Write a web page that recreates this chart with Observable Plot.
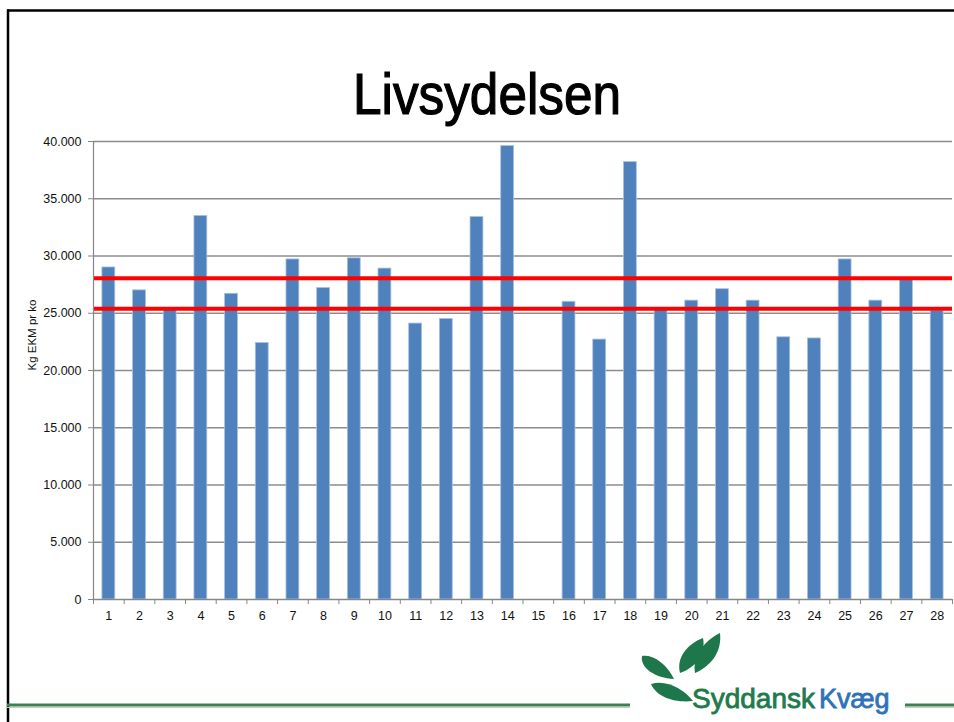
<!DOCTYPE html>
<html>
<head>
<meta charset="utf-8">
<script src="https://cdn.jsdelivr.net/npm/d3@7"></script>
<script src="https://cdn.jsdelivr.net/npm/@observablehq/plot@0.6"></script>
<style>
  html, body { margin: 0; padding: 0; background: #fff; }
  #page { position: relative; width: 954px; height: 722px; overflow: hidden; background: #fff; }
  #title { position: absolute; left: 487px; top: 66px; transform: translateX(-50%) scaleX(0.9);
    font-family: "Liberation Sans", Arial, sans-serif;
    font-size: 57px; line-height: 57px; color: #000; white-space: nowrap;
    -webkit-text-stroke: 1.2px #000; }
  #chart { position: absolute; left: 0; top: 130px; }
  #deco { position: absolute; left: 0; top: 0; }
</style>
</head>
<body>
<div id="page">
  <svg id="deco" width="954" height="722">
    <line x1="7" y1="10.5" x2="954" y2="10.5" stroke="#000" stroke-width="2.5"/>
    <line x1="8" y1="9.5" x2="8" y2="722" stroke="#000" stroke-width="2.5"/>
    <line x1="7" y1="705" x2="630" y2="705" stroke="#40804f" stroke-width="3"/>
    <line x1="7" y1="707.5" x2="630" y2="707.5" stroke="#b8d3be" stroke-width="1"/>
    <line x1="905" y1="705" x2="954" y2="705" stroke="#40804f" stroke-width="3"/>
    <line x1="905" y1="707.5" x2="954" y2="707.5" stroke="#b8d3be" stroke-width="1"/>
    <g fill="#1e774a">
      <path d="M674,679 C666,662 651,654 642,656 C640,668 655,678 674,679 Z"/>
      <path d="M651,684 C666,679 684,689 693,701 C676,703 657,698 651,684 Z"/>
      <path d="M680,673 C676,658 687,644 703,638 C706,653 697,667 680,673 Z"/>
      <path d="M695,673 C692,656 704,641 720,633 C722,650 713,665 695,673 Z"/>
    </g>
    <text x="692" y="708" font-family="Liberation Sans, Arial, sans-serif" font-size="28" fill="#217a4c" stroke="#217a4c" stroke-width="0.8">Syddansk</text>
    <text x="819" y="708" font-family="Liberation Sans, Arial, sans-serif" font-size="27" fill="#2e72b8" stroke="#2e72b8" stroke-width="0.8">Kvæg</text>
  </svg>
  <div id="title">Livsydelsen</div>
  <div id="chart"></div>
</div>
<script>
const categories = [1, 2, 3, 4, 5, 6, 7, 8, 9, 10, 11, 12, 13, 14, 15, 16, 17, 18, 19, 20, 21, 22, 23, 24, 25, 26, 27, 28];
const values = [29000, 27000, 25300, 33500, 26700, 22400, 29700, 27200, 29800, 28900,
                24100, 24500, 33400, 39600, null, 26000, 22700, 38200, 25300, 26100,
                27100, 26100, 22900, 22800, 29700, 26100, 27900, 25200];
const referenceLines = [28050, 25400];
const yTicks = [0, 5000, 10000, 15000, 20000, 25000, 30000, 35000, 40000];
const yLabel = "Kg EKM pr ko";

const data = categories.map((c, i) => ({cat: c, value: values[i]})).filter(d => d.value != null);
const boundaries = [...categories.map(c => c - 0.5), categories[categories.length - 1] + 0.5];
const fmt = n => n === 0 ? "0" : d3.format(",")(n).replace(/,/g, ".");

const chart = Plot.plot({
  width: 954,
  height: 500,
  marginLeft: 93,
  marginRight: 2,
  marginTop: 11,
  marginBottom: 31,
  x: {domain: [0.5, 28.5]},
  y: {domain: [0, 40000]},
  style: {fontFamily: "Liberation Sans, Arial, sans-serif", fontSize: "12.5px", color: "#111", background: "transparent", overflow: "visible"},
  marks: [
    Plot.gridY(yTicks, {stroke: "#8c8c8c", strokeOpacity: 1, strokeWidth: 1.4}),
    Plot.rectY(data, {x1: d => d.cat - 0.5, x2: d => d.cat + 0.5, y: "value", fill: "#4f81bd", stroke: "#a9c1e0", strokeWidth: 0.8, insetLeft: 8.9, insetRight: 8.9}),
    Plot.ruleY(referenceLines, {stroke: "#ff0000", strokeWidth: 4}),
    Plot.ruleX([0.5], {y1: 0, y2: 40000, stroke: "#868686", strokeWidth: 1.2}),
    Plot.ruleY([0], {stroke: "#868686", strokeWidth: 1.2}),
    Plot.axisY(yTicks, {tickFormat: fmt, tickSize: 5, tickPadding: 7, stroke: "#868686", label: null}),
    Plot.axisX(boundaries, {tickSize: 5, tickFormat: () => "", stroke: "#868686", label: null}),
    Plot.axisX(categories, {tickSize: 0, tickPadding: 12, label: null}),
    Plot.text([yLabel], {frameAnchor: "left", dx: -61, rotate: -90, fontSize: 11.5, fill: "#111"})
  ]
});
document.getElementById("chart").appendChild(chart);
</script>
</body>
</html>
